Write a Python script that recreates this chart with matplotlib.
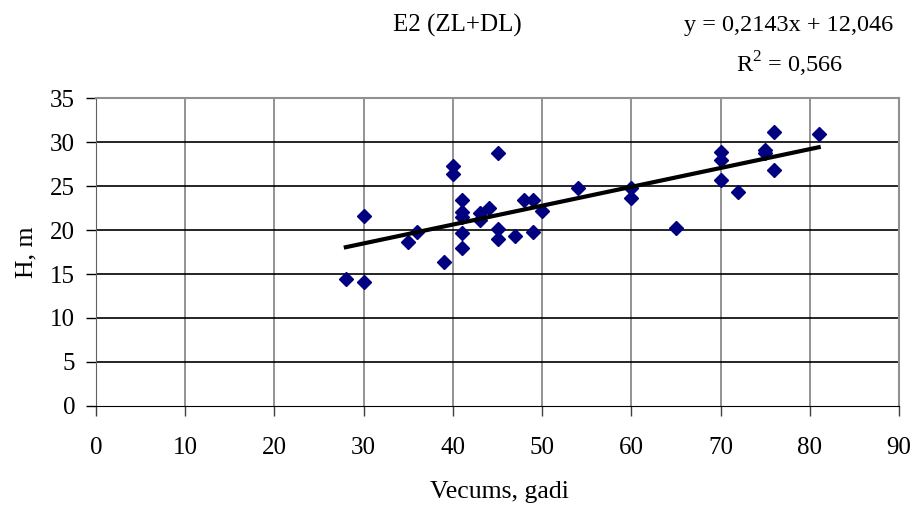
import numpy as np
import matplotlib.pyplot as plt

plt.rcParams['font.family'] = ['Liberation Serif', 'DejaVu Serif']
plt.rcParams['mathtext.fontset'] = 'custom'
plt.rcParams['mathtext.rm'] = 'Liberation Serif'

# vecums (gadi) un augstums H (m)
vecums = [28, 30, 30, 35, 36, 39, 40, 40, 41, 41, 41, 41, 41,
          43, 43, 44, 45, 45, 45, 47, 48, 49, 49, 50, 54,
          60, 60, 65, 70, 70, 70, 72, 75, 75, 76, 76, 81]
augstums = [14.4, 14.1, 21.6, 18.6, 19.8, 16.4, 27.3, 26.4, 23.4, 22.1, 21.5, 19.7, 18.0,
            21.9, 21.1, 22.5, 28.7, 20.1, 19.0, 19.3, 23.4, 23.4, 19.8, 22.2, 24.8,
            24.8, 23.6, 20.2, 28.9, 27.9, 25.7, 24.3, 29.1, 28.7, 31.1, 26.8, 30.9]

slope = 0.2143
intercept = 12.046
r2 = 0.566

fig = plt.figure(figsize=(9.17, 5.08), dpi=100)
ax = fig.add_axes([96/917, 1-406/508, (899-96)/917, (406-98)/508])

x = np.array(vecums)
ax.plot(x, augstums, linestyle='none', marker='D', markersize=7.5,
        color='#000080', zorder=3)
xt = np.array([min(vecums), max(vecums)])
ax.plot(xt, slope*xt + intercept, color='black', linewidth=3, zorder=4)

ax.set_xlim(0, 90)
ax.set_ylim(0, 35)
ax.set_xticks(range(0, 91, 10))
ax.set_yticks(range(0, 36, 5))
for v in range(10, 90, 10):
    ax.axvline(v, color='#808080', linewidth=1.2, zorder=1)
for v in range(5, 35, 5):
    ax.axhline(v, color='black', linewidth=1.2, zorder=1)

for side in ['top', 'right']:
    ax.spines[side].set_color('#909090')
    ax.spines[side].set_linewidth(1.5)
ax.spines['left'].set_color('#606060')
ax.spines['bottom'].set_color('black')
ax.tick_params(direction='out', length=7, width=1, labelsize=18)
ax.tick_params(axis='x', colors='#404040', labelcolor='black', pad=15)
ax.tick_params(axis='y', pad=8)

ax.set_xlabel('Vecums, gadi', fontsize=18.5)
ax.set_ylabel('H, m', fontsize=18.5)
ax.xaxis.label.set_va('center')
ax.yaxis.label.set_va('center')
ax.xaxis.set_label_coords(0.502, -(492-406)/308)
ax.yaxis.set_label_coords(-(96-26)/803, 0.5)

fig.text(457/917, 1-25/508, 'E2 (ZL+DL)', fontsize=18, ha='center', va='center')
fig.text(893/917, 1-25/508, 'y = 0,2143x + 12,046', fontsize=17.5, ha='right', va='center')
fig.text(843/917, 1-64/508, 'R$^{\\mathrm{2}}$ = 0,566', fontsize=17.5, ha='right', va='center')

fig.savefig('out.png', dpi=100)
